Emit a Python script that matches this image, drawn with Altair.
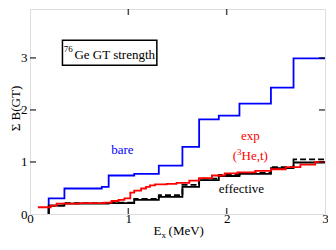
import altair as alt
import pandas as pd

# ---------------- data ----------------
# excitation energies (MeV) where the shell-model curves step up
E_steps = [0.19, 0.35, 0.73, 0.80, 1.06, 1.31, 1.55, 1.72, 1.92, 2.13, 2.45, 2.68]
bare = [0.30, 0.49, 0.52, 0.74, 0.77, 0.93, 1.29, 1.82, 1.89, 2.12, 2.43, 2.99]
effective = [0.16, 0.20, 0.20, 0.21, 0.27, 0.33, 0.52, 0.65, 0.73, 0.77, 0.88, 0.99]
effective_dashed = [0.16, 0.21, 0.21, 0.22, 0.29, 0.36, 0.56, 0.68, 0.75, 0.79, 0.90, 1.05]

# experimental (3He,t) running sum
exp_E = [0.08, 0.21, 0.27, 0.50, 0.76, 0.83, 0.90, 0.96, 1.02, 1.06, 1.13, 1.18, 1.22,
         1.27, 1.39, 1.49, 1.62, 1.72, 1.85, 1.98, 2.11, 2.29, 2.45, 2.60, 2.75, 2.90]
exp_B = [0.13, 0.16, 0.20, 0.21, 0.22, 0.25, 0.27, 0.30, 0.41, 0.45, 0.49, 0.52, 0.55,
         0.57, 0.58, 0.60, 0.64, 0.69, 0.74, 0.78, 0.80, 0.83, 0.86, 0.90, 0.95, 1.00]

E_MAX = 3.0
B_MAX = 3.94
tick_values = [0, 1, 2, 3]
inner_x_ticks = [1, 2]
inner_y_ticks = [1, 2, 3]

FONT = "Liberation Serif, Times New Roman, Times, serif"

# ---------------- scales / axes ----------------
x_scale = alt.Scale(domain=[0, E_MAX], nice=False, zero=False)
y_scale = alt.Scale(domain=[0, B_MAX], nice=False, zero=False)
x_axis = alt.Axis(values=tick_values, format="d", title=None, ticks=False, domain=False,
                  grid=False, labelFlush=False, labelOverlap=False, labelPadding=8.5,
                  labelBaseline="alphabetic", labelFont=FONT, labelFontSize=13,
                  labelColor="black")
y_axis = alt.Axis(values=tick_values, format="d", title="Σ B(GT)", ticks=False, domain=False,
                  grid=False, labelFlush=False, labelOverlap=False, labelPadding=3,
                  labelFont=FONT, labelFontSize=13, labelColor="black",
                  titleFont=FONT, titleFontSize=13, titleFontWeight="normal",
                  titleColor="black", titleAngle=270, titleX=-11, titleY=99,
                  titleAlign="center", titleBaseline="alphabetic")


def enc(**kw):
    d = dict(x=alt.X("x:Q", scale=x_scale, axis=x_axis),
             y=alt.Y("y:Q", scale=y_scale, axis=y_axis))
    d.update(kw)
    return d


def step_series(xs, ys, start_zero=True):
    px, py = [], []
    if start_zero:
        px.append(xs[0]); py.append(0.0)
    px += list(xs); py += list(ys)
    px.append(E_MAX); py.append(ys[-1])
    return pd.DataFrame({"x": px, "y": py, "i": list(range(len(px)))})


def line_layer(df, color, dash=None):
    kw = dict(interpolate="step-after", color=color, strokeWidth=1.8)
    if dash:
        kw["strokeDash"] = dash
    return alt.Chart(df).mark_line(**kw).encode(**enc(order="i:Q"))


def text_layer(xs, ys, texts, color="black", size=13, align="center"):
    df = pd.DataFrame({"x": xs, "y": ys, "t": texts})
    return alt.Chart(df).mark_text(font=FONT, fontSize=size, color=color, align=align,
                                   baseline="alphabetic").encode(**enc(text="t:N"))


layers = []
layers.append(line_layer(step_series(E_steps, bare), "#0000ff"))
layers.append(line_layer(step_series(E_steps, effective_dashed), "black", [6, 3]))
layers.append(line_layer(step_series(E_steps, effective), "black"))
layers.append(line_layer(step_series(exp_E, exp_B, start_zero=False), "#ff0000"))

# inward ticks on all four sides
tick_kw = dict(color="black", thickness=1.5, size=12, clip=True)
for yv in [0, B_MAX]:
    df = pd.DataFrame({"x": inner_x_ticks, "y": [yv] * len(inner_x_ticks)})
    layers.append(alt.Chart(df).mark_tick(orient="vertical", **tick_kw).encode(**enc()))
for xv in [0, E_MAX]:
    df = pd.DataFrame({"x": [xv] * len(inner_y_ticks), "y": inner_y_ticks})
    layers.append(alt.Chart(df).mark_tick(orient="horizontal", **tick_kw).encode(**enc()))

# label box
box = pd.DataFrame({"x": [0.33], "x2": [1.29], "y": [2.86], "y2": [3.34]})
layers.append(alt.Chart(box).mark_rect(fillOpacity=0, stroke="black", strokeWidth=1.5)
              .encode(**enc(x2="x2:Q", y2="y2:Q")))
layers.append(text_layer([0.344], [3.11], ["76"], size=9, align="left"))
layers.append(text_layer([0.452], [2.975], ["Ge GT strength"], align="left"))

# curve labels
layers.append(text_layer([0.94], [1.16], ["bare"], color="#0000ff"))
layers.append(text_layer([2.24], [1.43], ["exp"], color="#ff0000"))
layers.append(text_layer([2.061], [1.03], ["("], color="#ff0000", align="left"))
layers.append(text_layer([2.105], [1.13], ["3"], color="#ff0000", size=9, align="left"))
layers.append(text_layer([2.151], [1.03], ["He,t)"], color="#ff0000", align="left"))
layers.append(text_layer([2.15], [0.41], ["effective"]))

# x-axis title with subscript
layers.append(text_layer([1.257], [-0.404], ["E"], align="left"))
layers.append(text_layer([1.338], [-0.4615], ["x"], size=9, align="left"))
layers.append(text_layer([1.409], [-0.404], ["(MeV)"], align="left"))

chart = alt.layer(*layers).properties(
    width=295, height=205,
    autosize=alt.AutoSizeParams(type="none"),
    padding={"left": 22, "top": 1, "right": 3, "bottom": 26},
).configure_view(stroke="black", strokeWidth=2).configure(background="white")

chart.save("out.html", embed_options={"renderer": "svg", "actions": False})
